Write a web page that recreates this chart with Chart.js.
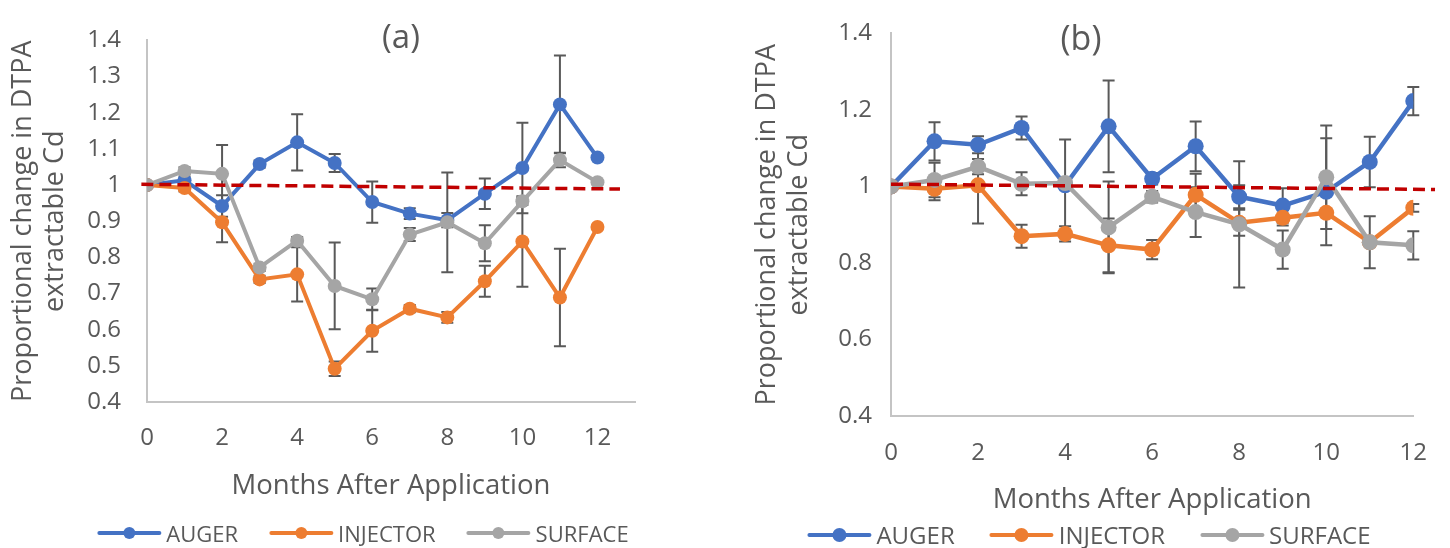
<!DOCTYPE html>
<html>
<head>
<meta charset="utf-8">
<script src="https://cdn.jsdelivr.net/npm/chart.js@4.4.1/dist/chart.umd.min.js"></script>
<style>
  html, body { margin: 0; padding: 0; background: #fff; width: 1450px; height: 548px; overflow: hidden; font-family: "Open Sans", sans-serif; }
  canvas { position: absolute; top: 0; }
  .tag { position: absolute; color: #595959; transform: translate(-50%, -50%); white-space: nowrap; line-height: 1; }
  .legend { position: absolute; display: flex; align-items: center; color: #595959; white-space: nowrap; transform: translate(-50%, -50%); line-height: 1; }
  .legend .item { display: flex; align-items: center; }
  .legend .icon { position: relative; display: inline-block; }
  .legend .icon .ln { position: absolute; left: 0; right: 0; top: 50%; border-radius: 2px; }
  .legend .icon .dot { position: absolute; left: 50%; top: 50%; border-radius: 50%; transform: translate(-50%, -50%); }
</style>
</head>
<body>
<canvas id="chartA" width="645" height="548" style="left:0px"></canvas>
<canvas id="chartB" width="728" height="548" style="left:722px"></canvas>
<div class="tag" style="left:401px; top:35px; font-size:33px">(a)</div>
<div class="tag" style="left:1081px; top:37px; font-size:34px">(b)</div>
<div class="legend" id="legendA" style="left:363px; top:533px; font-size:22px"></div>
<div class="legend" id="legendB" style="left:1089px; top:535px; font-size:24px"></div>
<script>
const FONT = "'Open Sans', sans-serif";
const TEXT = "#595959";

const months = [0, 1, 2, 3, 4, 5, 6, 7, 8, 9, 10, 11, 12];
const monthTicks = [0, 2, 4, 6, 8, 10, 12];
const seriesNames = ["AUGER", "INJECTOR", "SURFACE"];
const seriesColors = ["#4472C4", "#ED7D31", "#A5A5A5"];
const xTitle = "Months After Application";
const yTitle = ["Proportional change in DTPA", "extractable Cd"];

// panel (a)
const augerA = [1.0, 1.013, 0.942, 1.058, 1.118, 1.061, 0.953, 0.921, 0.903, 0.976, 1.047, 1.223, 1.076];
const injectorA = [1.0, 0.992, 0.897, 0.739, 0.753, 0.492, 0.597, 0.658, 0.634, 0.734, 0.844, 0.689, 0.884];
const surfaceA = [1.0, 1.039, 1.031, 0.772, 0.846, 0.721, 0.684, 0.863, 0.897, 0.839, 0.955, 1.069, 1.008];
const augerErrA = [0, 0.01, 0.03, 0.01, 0.078, 0.025, 0.057, 0.015, 0.02, 0.042, 0.125, 0.135, 0];
const injectorErrA = [0, 0.01, 0.055, 0.01, 0.075, 0.02, 0.058, 0.01, 0.015, 0.043, 0.125, 0.135, 0];
const surfaceErrA = [0, 0.01, 0.08, 0.01, 0.01, 0.12, 0.03, 0.018, 0.138, 0.05, 0.01, 0.02, 0];
const trendXA = [-0.15, 12.6];
const trendYA = [1.002, 0.989];
const yTicksA = [0.4, 0.5, 0.6, 0.7, 0.8, 0.9, 1.0, 1.1, 1.2, 1.3, 1.4];

// panel (b)
const augerB = [1.0, 1.118, 1.109, 1.153, 1.003, 1.157, 1.02, 1.105, 0.973, 0.95, 0.986, 1.064, 1.223];
const injectorB = [1.0, 0.994, 1.003, 0.870, 0.876, 0.846, 0.835, 0.978, 0.905, 0.918, 0.931, 0.854, 0.944];
const surfaceB = [1.0, 1.017, 1.052, 1.007, 1.009, 0.893, 0.973, 0.933, 0.901, 0.835, 1.024, 0.854, 0.846];
const augerErrB = [0, 0.05, 0.022, 0.03, 0.12, 0.12, 0.015, 0.065, 0.03, 0.045, 0.14, 0.066, 0.037];
const injectorErrB = [0, 0.03, 0.1, 0.03, 0.02, 0.07, 0.025, 0.055, 0.034, 0.02, 0.01, 0.01, 0.01];
const surfaceErrB = [0, 0.045, 0.02, 0.03, 0.01, 0.12, 0.015, 0.065, 0.165, 0.05, 0.135, 0.068, 0.037];
const trendXB = [0, 12.5];
const trendYB = [1.006, 0.992];
const yTicksB = [0.4, 0.6, 0.8, 1.0, 1.2, 1.4];

// error bars are drawn under the lines and markers, from each dataset's "errors" list
const errorBars = {
  id: "errorBars",
  beforeDatasetsDraw(chart) {
    const { ctx } = chart;
    const x = chart.scales.x, y = chart.scales.y;
    ctx.save();
    ctx.strokeStyle = "#595959";
    ctx.lineWidth = 2;
    chart.data.datasets.forEach(ds => {
      if (!ds.errors) return;
      ds.data.forEach((p, i) => {
        const e = ds.errors[i];
        if (!e) return;
        const px = x.getPixelForValue(p.x);
        const top = y.getPixelForValue(p.y + e);
        const bot = y.getPixelForValue(p.y - e);
        ctx.beginPath();
        ctx.moveTo(px, top); ctx.lineTo(px, bot);
        ctx.moveTo(px - 6, top); ctx.lineTo(px + 6, top);
        ctx.moveTo(px - 6, bot); ctx.lineTo(px + 6, bot);
        ctx.stroke();
      });
    });
    ctx.restore();
  }
};

function toPoints(xs, ys) {
  return xs.map((x, i) => ({ x: x, y: ys[i] }));
}

function buildChart(id, p) {
  const datasets = p.series.map((vals, k) => ({
    label: seriesNames[k],
    data: toPoints(months, vals),
    errors: p.errors[k],
    borderColor: seriesColors[k],
    backgroundColor: seriesColors[k],
    borderWidth: p.lineWidth,
    pointRadius: p.pointRadius,
    pointHoverRadius: p.pointRadius,
    pointBorderWidth: 0,
    order: 3 - k
  }));
  datasets.push({
    label: "trend",
    data: toPoints(p.trendX, p.trendY),
    borderColor: "#C00000",
    borderWidth: 3.5,
    borderDash: [12, 6],
    pointRadius: 0,
    clip: false,
    order: 0
  });

  return new Chart(document.getElementById(id), {
    type: "line",
    data: { datasets: datasets },
    options: {
      responsive: false,
      animation: false,
      layout: { padding: p.padding },
      plugins: { legend: { display: false }, tooltip: { enabled: false } },
      scales: {
        x: {
          type: "linear",
          min: 0,
          max: p.xMax,
          afterBuildTicks: s => { s.ticks = monthTicks.map(v => ({ value: v })); },
          afterFit: s => { s.height = p.xHeight; },
          grid: { display: false, drawTicks: false },
          border: { display: true, color: "#C4C4C4", width: 2 },
          ticks: { font: { family: FONT, size: p.tickSize }, color: TEXT, padding: p.xTickPad },
          title: {
            display: true, text: xTitle, color: TEXT,
            font: { family: FONT, size: 27.5, lineHeight: 1.2 },
            padding: { top: 0, bottom: p.xTitlePad }
          }
        },
        y: {
          min: 0.4,
          max: 1.4,
          afterBuildTicks: s => { s.ticks = p.yTicks.map(v => ({ value: v })); },
          afterFit: s => { s.width = p.yWidth; },
          grid: { display: false, drawTicks: false },
          border: { display: true, color: "#C4C4C4", width: 2 },
          ticks: {
            font: { family: FONT, size: p.tickSize }, color: TEXT, padding: p.yTickPad,
            callback: v => String(+v.toFixed(1))
          },
          title: {
            display: true, text: yTitle, color: TEXT,
            font: { family: FONT, size: 27, lineHeight: 1.2 },
            padding: { top: p.yTitlePad, bottom: 0 }
          }
        }
      }
    },
    plugins: [errorBars]
  });
}

function htmlLegend(chart, boxId, st) {
  const box = document.getElementById(boxId);
  chart.data.datasets.slice(0, seriesNames.length).forEach((ds, i) => {
    const item = document.createElement("span");
    item.className = "item";
    if (i > 0) item.style.marginLeft = st.gap + "px";
    const icon = document.createElement("span");
    icon.className = "icon";
    icon.style.width = st.iconWidth + "px";
    icon.style.height = st.dot + "px";
    const ln = document.createElement("span");
    ln.className = "ln";
    ln.style.height = st.line + "px";
    ln.style.marginTop = (-st.line / 2) + "px";
    ln.style.background = ds.borderColor;
    const dot = document.createElement("span");
    dot.className = "dot";
    dot.style.width = st.dot + "px";
    dot.style.height = st.dot + "px";
    dot.style.background = ds.borderColor;
    icon.appendChild(ln);
    icon.appendChild(dot);
    const label = document.createElement("span");
    label.textContent = ds.label;
    label.style.marginLeft = "5px";
    item.appendChild(icon);
    item.appendChild(label);
    box.appendChild(item);
  });
}

const chartA = buildChart("chartA", {
  series: [augerA, injectorA, surfaceA],
  errors: [augerErrA, injectorErrA, surfaceErrA],
  trendX: trendXA, trendY: trendYA,
  yTicks: yTicksA,
  xMax: 13,
  padding: { left: 0, top: 22, right: 10, bottom: 0 },
  yWidth: 147, xHeight: 146,
  tickSize: 24, xTickPad: 22, yTickPad: 26,
  xTitlePad: 45, yTitlePad: 7,
  lineWidth: 4, pointRadius: 7
});

const chartB = buildChart("chartB", {
  series: [augerB, injectorB, surfaceB],
  errors: [augerErrB, injectorErrB, surfaceErrB],
  trendX: trendXB, trendY: trendYB,
  yTicks: yTicksB,
  xMax: 12,
  padding: { left: 0, top: 22, right: 30, bottom: 0 },
  yWidth: 169, xHeight: 132,
  tickSize: 24, xTickPad: 23, yTickPad: 19,
  xTitlePad: 31, yTitlePad: 29,
  lineWidth: 4.5, pointRadius: 8
});

htmlLegend(chartA, "legendA", { gap: 31, iconWidth: 64, line: 4, dot: 12 });
htmlLegend(chartB, "legendB", { gap: 35, iconWidth: 64, line: 4.5, dot: 14 });
</script>
</body>
</html>
